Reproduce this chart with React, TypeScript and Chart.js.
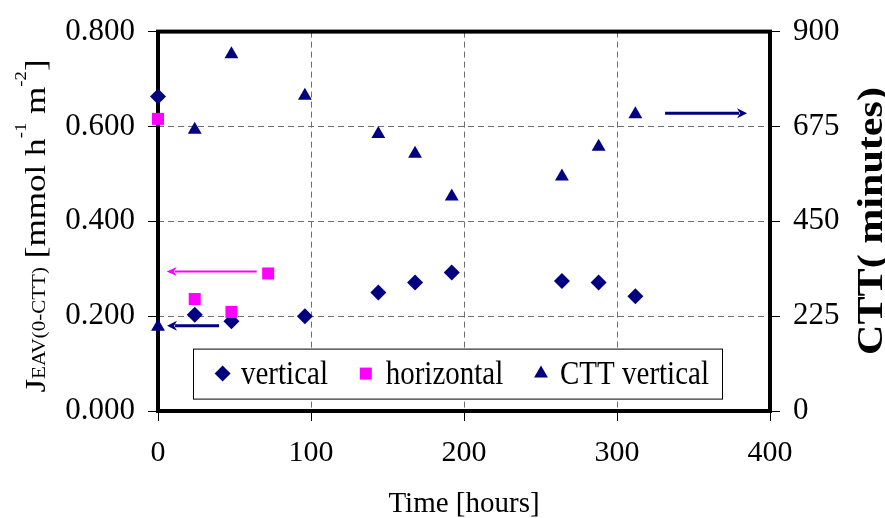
import React, { useEffect, useRef } from 'react';
import { Chart, registerables } from 'chart.js';

Chart.register(...registerables);

const FONT = "'Liberation Serif', 'Times New Roman', Times, serif";
const NAVY = '#000080';
const MAGENTA = '#FF00FF';
const STRETCH = 1.17;

// ---- data ----
const hoursVertical = [0, 24, 48, 96, 144, 168, 192, 264, 288, 312];
const fluxVertical = [0.663, 0.203, 0.189, 0.2, 0.25, 0.271, 0.292, 0.274, 0.271, 0.242];

const hoursHorizontal = [0, 24, 48, 72];
const fluxHorizontal = [0.616, 0.236, 0.209, 0.29];

const hoursCTT = [0, 24, 48, 96, 144, 168, 192, 264, 288, 312];
const cttVertical = [200, 667, 846, 748, 657, 610, 509, 556, 627, 704];

const xTicks = [0, 100, 200, 300, 400];
const leftTicks = [0, 0.2, 0.4, 0.6, 0.8];
const rightTicks = [0, 225, 450, 675, 900];

// annotation arrows (hours from -> hours to, level on left axis)
const arrowFrom = [64.5, 39.9, 331.4];
const arrowTo = [5.7, 5.9, 385];
const arrowLevel = [0.294, 0.18, 0.628];
const arrowColor = [MAGENTA, NAVY, NAVY];
const arrowWidth = [2, 3, 3];

const seriesLabels = ['vertical', 'horizontal', 'CTT vertical'];

function drawMarker(ctx: CanvasRenderingContext2D, style: string, x: number, y: number, r: number, color: string) {
  ctx.save();
  ctx.fillStyle = color;
  ctx.beginPath();
  if (style === 'rectRot') {
    ctx.moveTo(x, y - r);
    ctx.lineTo(x + r, y);
    ctx.lineTo(x, y + r);
    ctx.lineTo(x - r, y);
  } else if (style === 'rect') {
    const s = r * Math.SQRT1_2;
    ctx.rect(x - s, y - s, 2 * s, 2 * s);
  } else {
    ctx.moveTo(x, y - r);
    ctx.lineTo(x + r * Math.sin(Math.PI / 3), y + r / 2);
    ctx.lineTo(x - r * Math.sin(Math.PI / 3), y + r / 2);
  }
  ctx.closePath();
  ctx.fill();
  ctx.restore();
}

const framePlugin = {
  id: 'frame',
  beforeDatasetsDraw(chart: any) {
    const { ctx, chartArea: a } = chart;
    ctx.save();
    ctx.strokeStyle = '#000';
    ctx.lineWidth = 4;
    ctx.strokeRect(a.left, a.top, a.right - a.left, a.bottom - a.top);
    ctx.restore();
  },
};

const arrowPlugin = {
  id: 'arrows',
  afterDatasetsDraw(chart: any) {
    const { ctx } = chart;
    const xs = chart.scales.x;
    const ys = chart.scales.y;
    arrowFrom.forEach((from, i) => {
      const x1 = xs.getPixelForValue(from);
      const x2 = xs.getPixelForValue(arrowTo[i]);
      const y = ys.getPixelForValue(arrowLevel[i]);
      const dir = Math.sign(x2 - x1);
      const headLen = 10;
      const headHalf = arrowWidth[i] >= 3 ? 5 : 4.5;
      ctx.save();
      ctx.strokeStyle = arrowColor[i];
      ctx.fillStyle = arrowColor[i];
      ctx.lineWidth = arrowWidth[i];
      ctx.beginPath();
      ctx.moveTo(x1, y);
      ctx.lineTo(x2 - dir * headLen * 0.8, y);
      ctx.stroke();
      ctx.beginPath();
      ctx.moveTo(x2, y);
      ctx.lineTo(x2 - dir * headLen, y - headHalf);
      ctx.lineTo(x2 - dir * headLen * 0.7, y);
      ctx.lineTo(x2 - dir * headLen, y + headHalf);
      ctx.closePath();
      ctx.fill();
      ctx.restore();
    });
  },
};

const legendPlugin = {
  id: 'boxLegend',
  afterDatasetsDraw(chart: any) {
    const { ctx, chartArea: a } = chart;
    const bx = a.left + 35;
    const by = a.top + 317;
    const bw = 529;
    const bh = 50;
    ctx.save();
    ctx.fillStyle = '#fff';
    ctx.fillRect(bx, by, bw, bh);
    ctx.strokeStyle = '#000';
    ctx.lineWidth = 1;
    ctx.strokeRect(bx + 0.5, by + 0.5, bw, bh);
    const cy = by + bh / 2;
    const markerX = [29.6, 172.8, 348];
    const textX = [48, 192.7, 367];
    chart.data.datasets.forEach((ds: any, i: number) => {
      drawMarker(ctx, ds.pointStyle, bx + markerX[i], cy, ds.pointRadius, ds.backgroundColor);
      ctx.save();
      ctx.translate(bx + textX[i], cy);
      ctx.scale(1, STRETCH);
      ctx.fillStyle = '#000';
      ctx.font = `29px ${FONT}`;
      ctx.textAlign = 'left';
      ctx.textBaseline = 'middle';
      ctx.fillText(ds.label, 0, 1);
      ctx.restore();
    });
    ctx.restore();
  },
};

const titlesPlugin = {
  id: 'axisTitles',
  afterDraw(chart: any) {
    const { ctx } = chart;
    // left axis title
    ctx.save();
    ctx.translate(45, 226);
    ctx.rotate(-Math.PI / 2);
    ctx.scale(STRETCH, 1);
    ctx.fillStyle = '#000';
    ctx.textBaseline = 'alphabetic';
    ctx.textAlign = 'left';
    const segs = [
      { t: 'J', s: 30, dy: 0 },
      { t: 'EAV(0-CTT)', s: 18, dy: 0 },
      { t: ' [mmol h', s: 30, dy: 0 },
      { t: '-1', s: 16, dy: -19 },
      { t: ' m', s: 30, dy: 0 },
      { t: '-2', s: 16, dy: -19 },
      { t: ']', s: 30, dy: 0 },
    ];
    let total = 0;
    const widths = segs.map((g) => {
      ctx.font = `${g.s}px ${FONT}`;
      const w = ctx.measureText(g.t).width;
      total += w;
      return w;
    });
    let x = -total / 2;
    segs.forEach((g, i) => {
      ctx.font = `${g.s}px ${FONT}`;
      ctx.fillText(g.t, x, g.dy);
      x += widths[i];
    });
    ctx.restore();

    // right axis title
    ctx.save();
    ctx.translate(882, 221);
    ctx.rotate(-Math.PI / 2);
    ctx.scale(STRETCH, 1);
    ctx.fillStyle = '#000';
    ctx.font = `bold 36px ${FONT}`;
    ctx.textAlign = 'center';
    ctx.textBaseline = 'alphabetic';
    ctx.fillText('CTT( minutes)', 0, 0);
    ctx.restore();
  },
};

export default function App() {
  const canvasRef = useRef<HTMLCanvasElement | null>(null);

  useEffect(() => {
    if (!canvasRef.current) return;
    const tickFont = { family: FONT, size: 31 };
    const gridBase = {
      color: '#6e6e6e',
      lineWidth: 1,
      tickColor: '#000',
      tickBorderDash: [],
      tickLength: 10,
      tickWidth: 1,
    };
    const borderBase = { display: false, dash: [6, 4] };
    const chart = new Chart(canvasRef.current, {
      type: 'scatter',
      data: {
        datasets: [
          {
            label: seriesLabels[0],
            data: hoursVertical.map((h, i) => ({ x: h, y: fluxVertical[i] })),
            yAxisID: 'y',
            pointStyle: 'rectRot',
            pointRadius: 8,
            backgroundColor: NAVY,
            borderColor: NAVY,
            borderWidth: 0,
            order: 2,
            clip: false,
          },
          {
            label: seriesLabels[1],
            data: hoursHorizontal.map((h, i) => ({ x: h, y: fluxHorizontal[i] })),
            yAxisID: 'y',
            pointStyle: 'rect',
            pointRadius: 8.5,
            backgroundColor: MAGENTA,
            borderColor: MAGENTA,
            borderWidth: 0,
            order: 1,
            clip: false,
          },
          {
            label: seriesLabels[2],
            data: hoursCTT.map((h, i) => ({ x: h, y: cttVertical[i] })),
            yAxisID: 'y1',
            pointStyle: 'triangle',
            pointRadius: 8,
            backgroundColor: NAVY,
            borderColor: NAVY,
            borderWidth: 0,
            order: 0,
            clip: false,
          },
        ],
      } as any,
      options: {
        responsive: false,
        animation: false,
        layout: { padding: { top: 29, left: 0, right: 0, bottom: 0 } },
        plugins: {
          legend: { display: false },
          tooltip: { enabled: false },
        },
        scales: {
          x: {
            type: 'linear',
            position: 'bottom',
            min: xTicks[0],
            max: xTicks[xTicks.length - 1],
            afterBuildTicks: (s: any) => {
              s.ticks = xTicks.map((v) => ({ value: v }));
            },
            afterFit: (s: any) => {
              s.height = 107;
            },
            ticks: { font: { family: FONT, size: 30 }, color: '#000', padding: 14 },
            grid: gridBase,
            border: borderBase,
            title: {
              display: true,
              text: 'Time [hours]',
              color: '#000',
              font: { family: FONT, size: 29 },
              padding: { top: 0, bottom: -4 },
            },
          },
          y: {
            type: 'linear',
            position: 'left',
            min: leftTicks[0],
            max: leftTicks[leftTicks.length - 1],
            afterBuildTicks: (s: any) => {
              s.ticks = leftTicks.map((v) => ({ value: v }));
            },
            afterFit: (s: any) => {
              s.width = 158;
            },
            ticks: {
              font: tickFont,
              color: '#000',
              padding: 13,
              callback: (v: any) => Number(v).toFixed(3),
            },
            grid: gridBase,
            border: borderBase,
          },
          y1: {
            type: 'linear',
            position: 'right',
            min: rightTicks[0],
            max: rightTicks[rightTicks.length - 1],
            afterBuildTicks: (s: any) => {
              s.ticks = rightTicks.map((v) => ({ value: v }));
            },
            afterFit: (s: any) => {
              s.width = 115;
            },
            ticks: { font: tickFont, color: '#000', padding: 13 },
            grid: { ...gridBase, drawOnChartArea: false },
            border: borderBase,
          },
        },
      } as any,
      plugins: [framePlugin, arrowPlugin, legendPlugin, titlesPlugin],
    });
    return () => chart.destroy();
  }, []);

  return (
    <div style={{ position: 'absolute', left: 0, top: 0, width: 885, height: 518, background: '#fff' }}>
      <canvas ref={canvasRef} width={885} height={518} style={{ width: 885, height: 518, display: 'block' }} />
    </div>
  );
}
